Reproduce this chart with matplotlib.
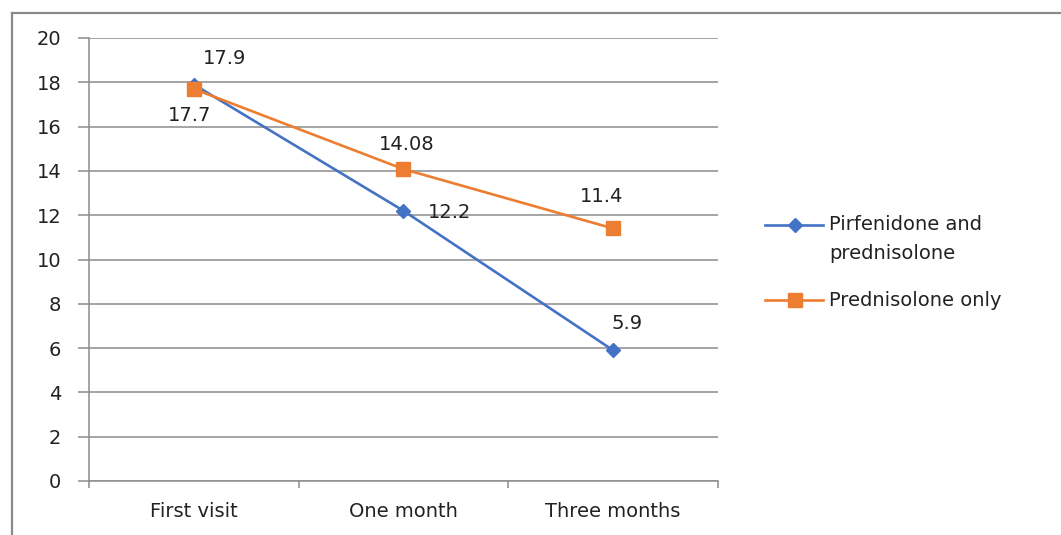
import matplotlib
matplotlib.use("Agg")
import matplotlib.pyplot as plt
from matplotlib.lines import Line2D

categories = ["First visit", "One month", "Three months"]
pirf_pred = [17.9, 12.2, 5.9]
pred_only = [17.7, 14.08, 11.4]
pirf_labels = ["17.9", "12.2", "5.9"]
pred_labels = ["17.7", "14.08", "11.4"]
yticks = [0, 2, 4, 6, 8, 10, 12, 14, 16, 18, 20]
series_names = ["Pirfenidone and\nprednisolone", "Prednisolone only"]

plt.rcParams['font.family'] = ['DejaVu Sans']

W, H = 1061, 535
fig = plt.figure(figsize=(W / 100, H / 100), dpi=100)
# outer frame (top and left edges visible)
fig.add_artist(Line2D([12 / W, 1.0], [1 - 13 / H, 1 - 13 / H], transform=fig.transFigure,
                      color='#8a8a8a', linewidth=1.6))
fig.add_artist(Line2D([12 / W, 12 / W], [0, 1 - 13 / H], transform=fig.transFigure,
                      color='#8a8a8a', linewidth=1.6))

ax = fig.add_axes([89 / W, 1 - 481 / H, 629 / W, 443 / H])

blue = '#4472C4'
orange = '#ED7D31'
grid_c = '#8c8c8c'
txt_c = '#222222'
x = list(range(len(categories)))

ax.plot(x, pirf_pred, color=blue, linewidth=1.9, marker='D', markersize=7, zorder=3)
ax.plot(x, pred_only, color=orange, linewidth=1.9, marker='s', markersize=9.5, zorder=4)

ax.set_xlim(-0.5, 2.5)
ax.set_ylim(0, 20)
ax.set_yticks(yticks)
ax.set_xticks(x)
ax.set_xticklabels(categories)
ax.yaxis.grid(True, color=grid_c, linewidth=1.1)
ax.set_axisbelow(True)
for s in ['top', 'right']:
    ax.spines[s].set_visible(False)
for s in ['left', 'bottom']:
    ax.spines[s].set_color(grid_c)
    ax.spines[s].set_linewidth(1.1)
ax.tick_params(axis='y', length=8, width=1.1, color=grid_c, labelsize=14, pad=12, labelcolor=txt_c)
ax.tick_params(axis='x', length=0, labelsize=14, pad=15, labelcolor=txt_c)
ax.set_xticks([-0.5, 0.5, 1.5, 2.5], minor=True)
ax.tick_params(axis='x', which='minor', length=5, width=1.1, color=grid_c)

fs = 14
offsets_pirf = [(22, 19), (33, -1), (10, 19)]
offsets_pred = [(-3, -19), (2, 18), (-8, 23)]
for i in x:
    ax.annotate(pirf_labels[i], (x[i], pirf_pred[i]), xytext=offsets_pirf[i], textcoords='offset points',
                ha='center', va='center', fontsize=fs, color=txt_c)
    ax.annotate(pred_labels[i], (x[i], pred_only[i]), xytext=offsets_pred[i], textcoords='offset points',
                ha='center', va='center', fontsize=fs, color=txt_c)

# legend (entries aligned with first text line, as in the original)
leg_items = [(blue, 'D', 7, 225), (orange, 's', 9.5, 300)]
for (c, m, ms, yy), name in zip(leg_items, series_names):
    yf = 1 - yy / H
    fig.add_artist(Line2D([765 / W, 823 / W], [yf, yf], transform=fig.transFigure,
                          color=c, linewidth=1.9))
    fig.add_artist(Line2D([795 / W], [yf], transform=fig.transFigure, color=c,
                          marker=m, markersize=ms, linestyle='none'))
    lines = name.split('\n')
    for k, ln in enumerate(lines):
        fig.text(829 / W, 1 - (yy + 29 * k) / H, ln, ha='left', va='center',
                 fontsize=14, color=txt_c)

fig.savefig("out.png", dpi=100)
